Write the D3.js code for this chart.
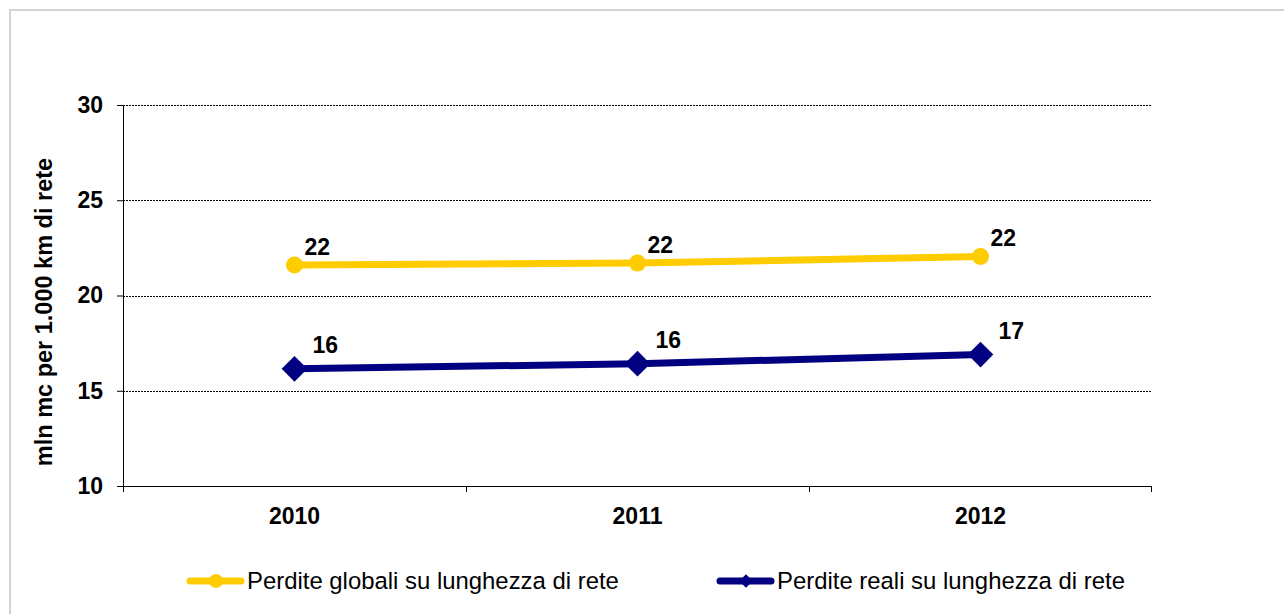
<!DOCTYPE html>
<html>
<head>
<meta charset="utf-8">
<script src="https://cdn.jsdelivr.net/npm/d3@7"></script>
<style>
  body { margin: 0; background: #fff; }
  svg { display: block; font-family: "Liberation Sans", Arial, sans-serif; }
</style>
</head>
<body>
<svg id="chart" width="1284" height="614"></svg>
<script>
var years = ["2010", "2011", "2012"];
var perditeGlobali = [21.6, 21.7, 22.05];
var perditeReali = [16.15, 16.42, 16.9];
var labelGlobali = ["22", "22", "22"];
var labelReali = ["16", "16", "17"];
var yTicks = [10, 15, 20, 25, 30];
var seriesNames = ["Perdite globali su lunghezza di rete", "Perdite reali su lunghezza di rete"];

var svg = d3.select("#chart");
var margin = {left: 123, top: 105, right: 132, bottom: 128};
var width = 1284 - margin.left - margin.right;
var height = 614 - margin.top - margin.bottom;

// chart area border
svg.append("rect")
    .attr("x", 10).attr("y", 10)
    .attr("width", 1290).attr("height", 620)
    .attr("fill", "none")
    .attr("stroke", "#d4d4d4")
    .attr("stroke-width", 2);

var g = svg.append("g").attr("transform", "translate(" + margin.left + "," + margin.top + ")");

var x = d3.scaleBand().domain(years).range([0, width]);
var y = d3.scaleLinear().domain([10, 30]).range([height, 0]);

// gridlines
g.append("g")
  .selectAll("line")
  .data(yTicks.filter(function(d) { return d > 10; }))
  .join("line")
    .attr("x1", 0).attr("x2", width)
    .attr("y1", function(d) { return Math.round(y(d)) + 0.5; })
    .attr("y2", function(d) { return Math.round(y(d)) + 0.5; })
    .attr("stroke", "#000")
    .attr("stroke-width", 1)
    .attr("stroke-dasharray", "2,1");

// y axis
var yAxis = d3.axisLeft(y).tickValues(yTicks).tickSize(6).tickPadding(14);
var yg = g.append("g").call(yAxis);
yg.select(".domain").attr("d", "M0.5," + (height + 6) + "V0").attr("stroke", "#000");
yg.selectAll("text").style("font-size", "23px").style("font-weight", "bold").attr("fill", "#000");

// x axis
var xAxis = d3.axisBottom(x).tickSize(0).tickPadding(22);
var xg = g.append("g").attr("transform", "translate(0," + height + ")").call(xAxis);
xg.select(".domain").attr("d", "M0,0.5H" + width).attr("stroke", "#000");
xg.selectAll("text").style("font-size", "23px").style("font-weight", "bold").attr("fill", "#000");
xg.append("g")
  .selectAll("line")
  .data(d3.range(years.length + 1))
  .join("line")
    .attr("x1", function(i) { return i * x.step() + (i === years.length ? -0.5 : 0.5); })
    .attr("x2", function(i) { return i * x.step() + (i === years.length ? -0.5 : 0.5); })
    .attr("y1", 0).attr("y2", 6)
    .attr("stroke", "#000");

// y title
svg.append("text")
    .attr("transform", "translate(52," + 312 + ") rotate(-90)")
    .attr("text-anchor", "middle")
    .style("font-size", "23.5px")
    .style("font-weight", "bold")
    .text("mln mc per 1.000 km di rete");

var cx = function(i) { return x(years[i]) + x.bandwidth() / 2; };
var line = d3.line().x(function(d, i) { return cx(i); }).y(function(d) { return y(d); });

// series: globali
g.append("path").datum(perditeGlobali)
    .attr("d", line).attr("fill", "none")
    .attr("stroke", "#FFCC00").attr("stroke-width", 7);
g.selectAll(".mk-g").data(perditeGlobali).join("circle")
    .attr("class", "mk-g")
    .attr("cx", function(d, i) { return cx(i); })
    .attr("cy", function(d) { return y(d); })
    .attr("r", 8.5)
    .attr("fill", "#FFCC00");

// series: reali
g.append("path").datum(perditeReali)
    .attr("d", line).attr("fill", "none")
    .attr("stroke", "#000080").attr("stroke-width", 7);
var diamond = d3.symbol().type(d3.symbolDiamond2).size(420);
g.selectAll(".mk-r").data(perditeReali).join("path")
    .attr("class", "mk-r")
    .attr("transform", function(d, i) { return "translate(" + cx(i) + "," + y(d) + ")"; })
    .attr("d", diamond)
    .attr("fill", "#000080");

// data labels
g.selectAll(".lb-g").data(perditeGlobali).join("text")
    .attr("class", "lb-g")
    .attr("x", function(d, i) { return cx(i) + 10; })
    .attr("y", function(d) { return y(d) - 10; })
    .style("font-size", "23px").style("font-weight", "bold")
    .text(function(d, i) { return labelGlobali[i]; });
g.selectAll(".lb-r").data(perditeReali).join("text")
    .attr("class", "lb-r")
    .attr("x", function(d, i) { return cx(i) + 18; })
    .attr("y", function(d) { return y(d) - 16; })
    .style("font-size", "23px").style("font-weight", "bold")
    .text(function(d, i) { return labelReali[i]; });

// legend
var legendX = [187, 717];
var legendColors = ["#FFCC00", "#000080"];
var legend = svg.selectAll(".legend").data(seriesNames).join("g")
    .attr("class", "legend")
    .attr("transform", function(d, i) { return "translate(" + legendX[i] + ",581)"; });
legend.append("line")
    .attr("x1", 3).attr("x2", 54).attr("y1", 0).attr("y2", 0)
    .attr("stroke", function(d, i) { return legendColors[i]; })
    .attr("stroke-width", 7)
    .attr("stroke-linecap", "round");
legend.append("path")
    .attr("transform", "translate(29,0)")
    .attr("d", function(d, i) {
        return i === 0 ? d3.symbol().type(d3.symbolCircle).size(150)() : d3.symbol().type(d3.symbolDiamond2).size(120)();
    })
    .attr("fill", function(d, i) { return legendColors[i]; });
legend.append("text")
    .attr("x", 60).attr("y", 8)
    .style("font-size", "23.9px")
    .text(function(d) { return d; });
</script>
</body>
</html>
